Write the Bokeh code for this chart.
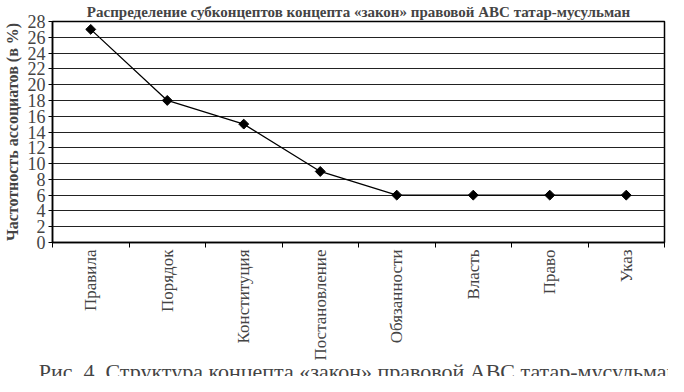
import math
from bokeh.plotting import figure
from bokeh.models import FixedTicker, Title, Range1d
from bokeh.embed import file_html
from bokeh.resources import INLINE

categories = ["Правила", "Порядок", "Конституция", "Постановление",
              "Обязанности", "Власть", "Право", "Указ"]
values = [27, 18, 15, 9, 6, 6, 6, 6]
y_ticks = list(range(0, 29, 2))
chart_title = "Распределение субконцептов концепта «закон» правовой АВС татар-мусульман"
y_label = "Частотность ассоциатов (в %)"
caption = "Рис. 4. Структура концепта «закон» правовой АВС татар-мусульман"

FONT = "Liberation Serif"

n = len(categories)
xs = [i + 0.5 for i in range(n)]

p = figure(width=668, height=376, output_backend="svg", toolbar_location=None,
           x_range=Range1d(0, n), y_range=Range1d(0, 28),
           min_border_left=52, min_border_right=4, min_border_top=0, min_border_bottom=0,
           background_fill_color="white", border_fill_color="white")

p.title.text = chart_title
p.title.text_font = FONT
p.title.text_font_size = "15px"
p.title.text_font_style = "bold"
p.title.align = "center"
p.title.standoff = 3

p.outline_line_color = "black"
p.outline_line_width = 1.5

# y axis
p.yaxis.ticker = FixedTicker(ticks=y_ticks)
p.yaxis.axis_label = y_label
p.yaxis.axis_label_text_font = FONT
p.yaxis.axis_label_text_font_size = "16px"
p.yaxis.axis_label_text_font_style = "bold"
p.yaxis.axis_label_standoff = 4
p.yaxis.major_label_text_font = FONT
p.yaxis.major_label_text_font_size = "18px"
p.yaxis.major_label_standoff = 3
p.yaxis.major_tick_out = 4
p.yaxis.major_tick_in = 0
p.yaxis.minor_tick_line_color = None
p.yaxis.axis_line_color = "black"
p.yaxis.axis_line_width = 1.5

# x axis: labels at category centres, tick marks between categories
p.xaxis.ticker = FixedTicker(ticks=xs, minor_ticks=list(range(n + 1)))
p.xaxis.major_label_overrides = {x: c for x, c in zip(xs, categories)}
p.xaxis.major_label_orientation = math.pi / 2
p.xaxis.major_label_text_font = FONT
p.xaxis.major_label_text_font_size = "17px"
p.xaxis.major_label_standoff = 2
p.xaxis.major_tick_line_color = None
p.xaxis.major_tick_out = 0
p.xaxis.minor_tick_out = 5
p.xaxis.minor_tick_in = 0
p.xaxis.minor_tick_line_color = "black"
p.xaxis.axis_line_color = "black"
p.xaxis.axis_line_width = 1.5

p.xgrid.grid_line_color = None
p.ygrid.ticker = FixedTicker(ticks=y_ticks)
p.ygrid.grid_line_color = "#222222"
p.ygrid.grid_line_width = 1

p.line(xs, values, line_color="black", line_width=1.3)
p.scatter(xs, values, marker="square", angle=math.pi / 4, size=7,
          fill_color="black", line_color="black")

cap = Title(text=caption, align="center", vertical_align="bottom", text_font=FONT,
            text_font_size="22px", text_font_style="normal", standoff=-14,
            offset=-19)
p.add_layout(cap, "below")

open("out.html", "w").write(file_html(p, INLINE))
